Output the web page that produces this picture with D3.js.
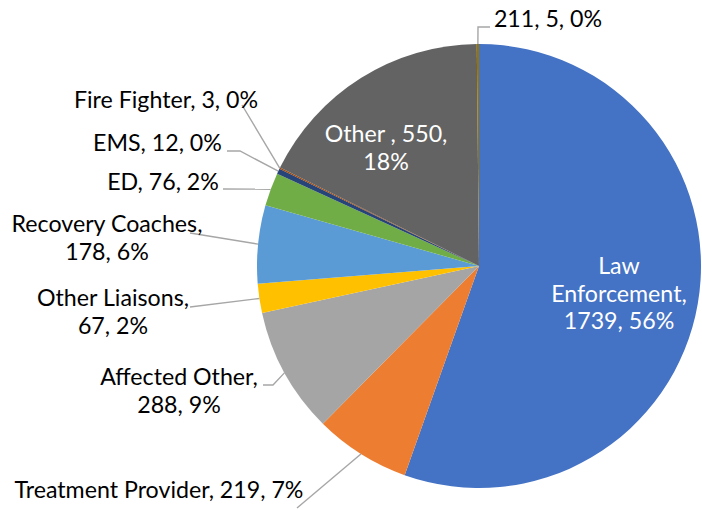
<!DOCTYPE html>
<html>
<head>
<meta charset="utf-8">
<script src="https://cdn.jsdelivr.net/npm/d3@7"></script>
<style>
  html, body { margin: 0; padding: 0; background: #fff; }
  svg { display: block; }
  text { font-family: Lato, "Open Sans", sans-serif; }
</style>
</head>
<body>
<div id="chart"></div>
<script>
// ---- data ----
const categories = ["Law Enforcement", "Treatment Provider", "Affected Other", "Other Liaisons",
                    "Recovery Coaches", "ED", "EMS", "Fire Fighter", "Other ", "211"];
const values = [1739, 219, 288, 67, 178, 76, 12, 3, 550, 5];
const percents = [56, 7, 9, 2, 6, 2, 0, 0, 18, 0];
const colors = ["#4472C4", "#ED7D31", "#A5A5A5", "#FFC000", "#5B9BD5",
                "#70AD47", "#264478", "#9E480E", "#636363", "#997300"];

// ---- layout (label placement, Excel-style) ----
const W = 702, H = 510;
const cx = 479, cy = 266, R = 222;
const fontSize = 23.2, lineH = 27.5;
// x: centre of label text, y: first baseline, lines: words per line, inside: white label in slice,
// leader: label-side points of the leader line (in pixel coordinates)
const labelLayout = [
  { x: 619, y: 274, lines: [1, 1, 2], inside: true },
  { x: 159, y: 498, lines: null, leader: [[297, 508]] },
  { x: 179, y: 385, lines: [2, 2], leader: [[263, 385], [273, 385]] },
  { x: 113, y: 306, lines: [2, 2], leader: [[190, 307]] },
  { x: 107, y: 232, lines: [2, 2], leader: [[190, 233]] },
  { x: 163, y: 190, lines: null, leader: [[223, 189]] },
  { x: 157.5, y: 151, lines: null, leader: [[227, 151], [240, 151]] },
  { x: 166, y: 108, lines: null, leader: [[242, 105]] },
  { x: 386, y: 142, lines: [3, 1], inside: true },
  { x: 548, y: 27, lines: null, leader: [[490, 27], [478, 27]] }
];

const data = categories.map((c, i) => ({ name: c, value: values[i], pct: percents[i], color: colors[i], layout: labelLayout[i] }));

const svg = d3.select("#chart").append("svg").attr("width", W).attr("height", H);
const g = svg.append("g").attr("transform", `translate(${cx},${cy})`);

const pie = d3.pie().sort(null).value(d => d.value).startAngle(0).endAngle(2 * Math.PI);
const arcs = pie(data);
const arc = d3.arc().innerRadius(0).outerRadius(R);

g.selectAll("path.slice").data(arcs).join("path")
  .attr("class", "slice")
  .attr("d", arc)
  .attr("fill", d => d.data.color);

// leader lines
const line = d3.line();
arcs.forEach(a => {
  const L = a.data.layout;
  if (!L.leader) return;
  const mid = (a.startAngle + a.endAngle) / 2;
  const ex = cx + R * Math.sin(mid), ey = cy - R * Math.cos(mid);
  const pts = L.leader.concat([[ex, ey]]);
  svg.append("path")
    .attr("d", line(pts))
    .attr("fill", "none")
    .attr("stroke", "#A6A6A6")
    .attr("stroke-width", 1.4);
});

// labels
arcs.forEach(a => {
  const d = a.data, L = d.layout;
  const full = `${d.name}, ${d.value}, ${d.pct}%`;
  const words = full.split(" ");
  let rows = [];
  if (L.lines) {
    let k = 0;
    L.lines.forEach(n => { rows.push(words.slice(k, k + n).join(" ")); k += n; });
  } else {
    rows = [full];
  }
  const t = svg.append("text")
    .attr("text-anchor", "middle")
    .attr("font-size", fontSize)
    .attr("fill", L.inside ? "#FFFFFF" : "#000000");
  rows.forEach((r, i) => {
    t.append("tspan").attr("x", L.x).attr("y", L.y + i * lineH).text(r);
  });
});
</script>
</body>
</html>
